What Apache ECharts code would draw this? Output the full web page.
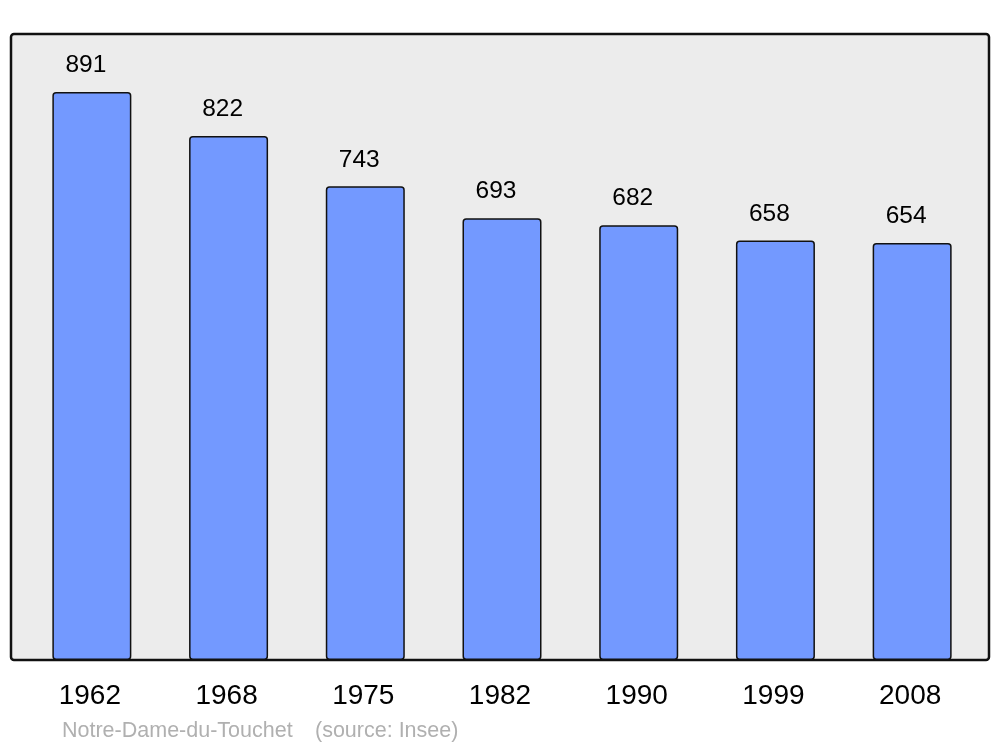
<!DOCTYPE html>
<html>
<head>
<meta charset="utf-8">
<script src="https://cdn.jsdelivr.net/npm/echarts@6/dist/echarts.min.js"></script>
<style>html,body{margin:0;padding:0;background:#fff}#c{width:1000px;height:747px}</style>
</head>
<body>
<div id="c"></div>
<script>
const years = ['1962','1968','1975','1982','1990','1999','2008'];
const population = [891, 822, 743, 693, 682, 658, 654];
const placeName = 'Notre-Dame-du-Touchet';
const sourceText = '(source: Insee)';

const chart = echarts.init(document.getElementById('c'), null, {renderer: 'canvas'});
chart.setOption({
  animation: false,
  backgroundColor: '#ffffff',
  textStyle: {fontFamily: 'Liberation Sans, Arial, sans-serif'},
  graphic: [
    {type: 'rect', z: -10, shape: {x: 11, y: 34, width: 978, height: 626, r: 3},
     style: {fill: '#ececec', stroke: '#111', lineWidth: 2.5}},
    {type: 'text', left: 62, top: 720, style: {text: placeName, fill: '#b0b0b0', font: '21.5px Liberation Sans, Arial, sans-serif'}},
    {type: 'text', left: 315, top: 720, style: {text: sourceText, fill: '#b0b0b0', font: '21.5px Liberation Sans, Arial, sans-serif'}}
  ],
  grid: {left: 23.5, right: 19.5, top: 34, bottom: 87, containLabel: false},
  xAxis: {
    type: 'category', data: years,
    axisLine: {show: false}, axisTick: {show: false},
    axisLabel: {fontSize: 28, color: '#000', margin: 22, padding: [0, 4, 0, 0],
                fontFamily: 'Liberation Sans, Arial, sans-serif'}
  },
  yAxis: {
    type: 'value', min: 0, max: 982,
    show: false, splitLine: {show: false}
  },
  series: [{
    type: 'bar', data: population, barWidth: 79,
    itemStyle: {color: '#7399ff', borderColor: '#111', borderWidth: 1.5, borderRadius: 3},
    label: {show: true, position: 'top', distance: 14, fontSize: 24.5, color: '#000',
            offset: [-6, 0], fontFamily: 'Liberation Sans, Arial, sans-serif'}
  }]
});
</script>
</body>
</html>
